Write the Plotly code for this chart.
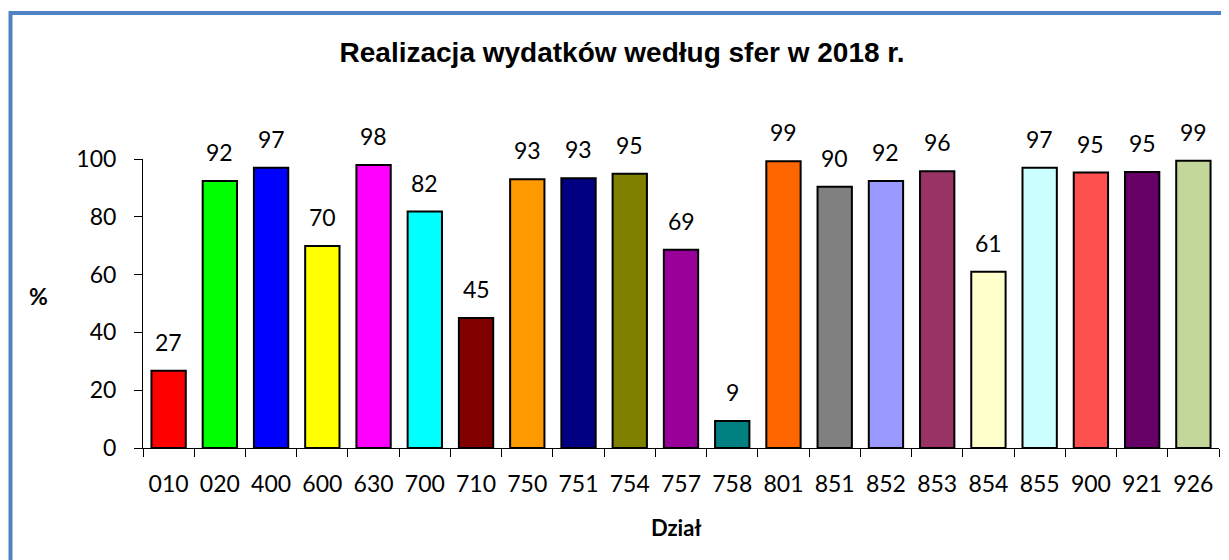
import plotly.graph_objects as go

categories = ["010", "020", "400", "600", "630", "700", "710", "750", "751", "754",
              "757", "758", "801", "851", "852", "853", "854", "855", "900", "921", "926"]
values = [26.7, 92.4, 97.0, 69.9, 97.9, 81.8, 45.0, 93.0, 93.3, 94.9,
          68.6, 9.3, 99.2, 90.4, 92.4, 95.8, 61.0, 97.0, 95.3, 95.5, 99.4]
labels = ["27", "92", "97", "70", "98", "82", "45", "93", "93", "95",
          "69", "9", "99", "90", "92", "96", "61", "97", "95", "95", "99"]
colors = ["#FF0000", "#00FF00", "#0000FF", "#FFFF00", "#FF00FF", "#00FFFF", "#800000",
          "#FF9900", "#000080", "#808000", "#990099", "#008080", "#FF6600", "#808080",
          "#9999FF", "#993366", "#FFFFCC", "#CCFFFF", "#FF5050", "#660066", "#C4D79B"]
yticks = [0, 20, 40, 60, 80, 100]

OFF = 8  # page body margin
W, H = 1229 - OFF, 560 - OFF
L, R, T, B = 143 - OFF, 10, 159 - OFF, 560 - 448
pw, ph = W - L - R, H - T - B

def px(x):
    return (x - OFF - L) / pw

def py(y):
    return (H - B - (y - OFF)) / ph

FONT = "Lato, Carlito, sans-serif"

fig = go.Figure(go.Bar(
    x=categories, y=values,
    marker=dict(color=colors, line=dict(color="black", width=2)),
    width=0.67,
))

for i, (v, t) in enumerate(zip(values, labels)):
    fig.add_annotation(x=i, y=v, xref="x", yref="y", text=t, showarrow=False,
                       xanchor="center", yanchor="bottom", yshift=13,
                       font=dict(family=FONT, size=23, color="black"))

fig.update_layout(
    width=W, height=H,
    margin=dict(l=L, r=R, t=T, b=B),
    plot_bgcolor="white", paper_bgcolor="white",
    showlegend=False,
    title=dict(text="<b>Realizacja wydatków według sfer w 2018 r.</b>",
               x=(622 - OFF) / W, xanchor="center", y=1 - (52 - OFF) / H, yanchor="middle",
               font=dict(family="Liberation Sans, Arial, sans-serif", size=28, color="black")),
    xaxis=dict(type="category", categoryorder="array", categoryarray=categories,
               range=[-0.5, len(categories) - 0.5],
               showline=True, linecolor="black", linewidth=1,
               ticks="outside", tickson="boundaries", ticklen=8, tickcolor="black",
               tickfont=dict(family=FONT, size=23, color="black"),
               ticklabelstandoff=15, showgrid=False, zeroline=False),
    yaxis=dict(range=[0, 100], tickvals=yticks, showline=True, linecolor="black", linewidth=1,
               ticks="outside", ticklen=8, tickcolor="black",
               tickfont=dict(family=FONT, size=23, color="black"),
               ticklabelstandoff=13, showgrid=False, zeroline=False),
    font=dict(family=FONT),
)

fig.add_annotation(text="<b>%</b>", x=px(38), y=py(296), xref="paper", yref="paper",
                   showarrow=False, xanchor="center", yanchor="middle",
                   font=dict(family=FONT, size=23, color="black"))
fig.add_annotation(text="<b>Dział</b>", x=px(676), y=py(527), xref="paper", yref="paper",
                   showarrow=False, xanchor="center", yanchor="middle",
                   font=dict(family=FONT, size=22, color="black"))

fig.add_shape(type="rect", xref="paper", yref="paper",
              x0=px(10.5), x1=px(1300), y0=py(13), y1=py(700),
              line=dict(color="#5083C1", width=4), fillcolor="rgba(0,0,0,0)", layer="below")

fig.write_html("out.html")
